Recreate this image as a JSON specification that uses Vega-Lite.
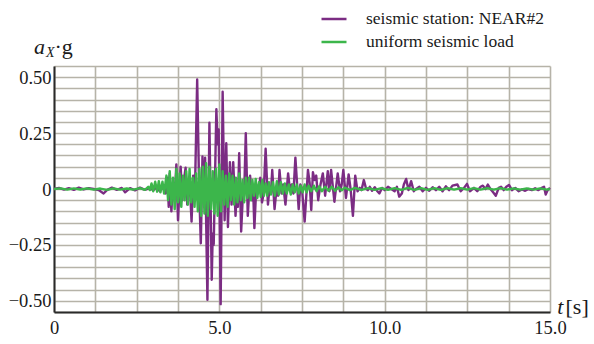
{
  "$schema": "https://vega.github.io/schema/vega-lite/v6.json",
  "width": 496,
  "height": 246,
  "autosize": {"type": "none"},
  "padding": {"left": 54, "top": 66, "right": 44, "bottom": 32},
  "background": "white",
  "config": {
    "view": {"stroke": null},
    "font": "Liberation Serif, Times New Roman, serif",
    "style": {
      "guide-label": {"font": "Liberation Serif, Times New Roman, serif", "fill": "#1a1a1a"},
      "guide-title": {"font": "Liberation Serif, Times New Roman, serif", "fill": "#1a1a1a"}
    },
    "axis": {
      "grid": true,
      "gridColor": "#b6b3a8",
      "gridWidth": 1.6,
      "domainColor": "#2a2a2a",
      "domainWidth": 2,
      "ticks": false,
      "tickSize": 0,
      "labelFont": "Liberation Serif, Times New Roman, serif",
      "labelFontSize": 18.5,
      "labelColor": "#1a1a1a",
      "labelOverlap": false,
      "labelFlush": false,
      "labelBound": false,
      "title": null
    }
  },
  "datasets": {
    "station": [
      {"t":0,"a":0},{"t":0.15,"a":0.005},{"t":0.3,"a":-0.003},{"t":0.45,"a":0.004},{"t":0.6,"a":-0.004},{"t":0.75,"a":0.006},{"t":0.9,"a":-0.002},{"t":1.05,"a":0.004},{"t":1.2,"a":0},{"t":1.35,"a":-0.005},{"t":1.5,"a":-0.02},{"t":1.6,"a":-0.005},{"t":1.75,"a":0.006},{"t":1.9,"a":-0.004},{"t":2.05,"a":0.005},{"t":2.15,"a":-0.015},{"t":2.3,"a":0.004},{"t":2.45,"a":-0.006},{"t":2.6,"a":0.006},{"t":2.75,"a":-0.004},{"t":2.9,"a":0.005},{"t":3.0,"a":-0.006},{"t":3.1,"a":0.008},{"t":3.2,"a":-0.01},{"t":3.3,"a":0.01},{"t":3.38,"a":-0.02},{"t":3.43,"a":0.05},{"t":3.47,"a":-0.08},{"t":3.5,"a":0.07},{"t":3.55,"a":-0.1},{"t":3.6,"a":0.03},{"t":3.65,"a":-0.04},{"t":3.7,"a":0.11},{"t":3.75,"a":-0.14},{"t":3.8,"a":0.02},{"t":3.83,"a":0.1},{"t":3.88,"a":-0.05},{"t":3.93,"a":0.04},{"t":3.98,"a":0.095},{"t":4.03,"a":-0.07},{"t":4.08,"a":0.03},{"t":4.12,"a":-0.02},{"t":4.16,"a":-0.146},{"t":4.21,"a":0.06},{"t":4.26,"a":-0.03},{"t":4.33,"a":0.49},{"t":4.39,"a":0.0},{"t":4.44,"a":-0.243},{"t":4.49,"a":0.145},{"t":4.53,"a":-0.05},{"t":4.57,"a":0.14},{"t":4.64,"a":-0.495},{"t":4.7,"a":0.296},{"t":4.77,"a":-0.406},{"t":4.8,"a":-0.2},{"t":4.83,"a":-0.25},{"t":4.91,"a":0.357},{"t":4.95,"a":0.2},{"t":4.98,"a":0.266},{"t":5.04,"a":-0.515},{"t":5.1,"a":0.435},{"t":5.16,"a":-0.14},{"t":5.21,"a":0.205},{"t":5.26,"a":-0.17},{"t":5.32,"a":0.12},{"t":5.37,"a":-0.07},{"t":5.42,"a":0.12},{"t":5.49,"a":-0.12},{"t":5.53,"a":0.0},{"t":5.56,"a":-0.08},{"t":5.6,"a":0.16},{"t":5.66,"a":-0.19},{"t":5.72,"a":0.0},{"t":5.75,"a":-0.03},{"t":5.8,"a":0.25},{"t":5.86,"a":-0.12},{"t":5.93,"a":0.06},{"t":5.98,"a":-0.05},{"t":6.02,"a":0.01},{"t":6.06,"a":-0.175},{"t":6.12,"a":0.02},{"t":6.16,"a":-0.02},{"t":6.24,"a":0.05},{"t":6.29,"a":-0.06},{"t":6.34,"a":-0.02},{"t":6.4,"a":0.18},{"t":6.47,"a":-0.07},{"t":6.52,"a":0.01},{"t":6.56,"a":-0.02},{"t":6.6,"a":0.085},{"t":6.67,"a":-0.09},{"t":6.73,"a":0.0},{"t":6.78,"a":-0.03},{"t":6.82,"a":0.085},{"t":6.88,"a":-0.02},{"t":6.93,"a":0.02},{"t":7.0,"a":-0.07},{"t":7.08,"a":0.07},{"t":7.14,"a":-0.01},{"t":7.19,"a":0.02},{"t":7.24,"a":-0.02},{"t":7.3,"a":0.14},{"t":7.4,"a":-0.09},{"t":7.45,"a":0.02},{"t":7.5,"a":0.0},{"t":7.58,"a":-0.146},{"t":7.68,"a":0.085},{"t":7.73,"a":0.03},{"t":7.78,"a":-0.094},{"t":7.83,"a":0.075},{"t":7.88,"a":0.04},{"t":7.93,"a":0.06},{"t":7.99,"a":-0.05},{"t":8.06,"a":0.02},{"t":8.13,"a":0.07},{"t":8.2,"a":-0.03},{"t":8.28,"a":0.08},{"t":8.33,"a":-0.01},{"t":8.38,"a":0.085},{"t":8.48,"a":-0.057},{"t":8.58,"a":0.07},{"t":8.65,"a":-0.01},{"t":8.7,"a":0.02},{"t":8.75,"a":0.085},{"t":8.83,"a":-0.04},{"t":8.91,"a":0.065},{"t":8.97,"a":0.0},{"t":9.04,"a":-0.12},{"t":9.11,"a":0.06},{"t":9.18,"a":-0.01},{"t":9.25,"a":0.005},{"t":9.3,"a":-0.005},{"t":9.37,"a":0.04},{"t":9.44,"a":0.0},{"t":9.49,"a":-0.005},{"t":9.55,"a":0.01},{"t":9.62,"a":-0.008},{"t":9.7,"a":0.008},{"t":9.78,"a":-0.01},{"t":9.84,"a":-0.02},{"t":9.92,"a":0.005},{"t":10.0,"a":-0.005},{"t":10.1,"a":0.01},{"t":10.2,"a":0.0},{"t":10.3,"a":-0.01},{"t":10.37,"a":0.01},{"t":10.44,"a":-0.034},{"t":10.52,"a":-0.02},{"t":10.58,"a":0.02},{"t":10.65,"a":0.045},{"t":10.72,"a":-0.005},{"t":10.8,"a":0.035},{"t":10.88,"a":-0.01},{"t":10.95,"a":0.0},{"t":11.05,"a":0.01},{"t":11.15,"a":-0.01},{"t":11.25,"a":0.005},{"t":11.35,"a":-0.008},{"t":11.45,"a":0.008},{"t":11.55,"a":-0.005},{"t":11.65,"a":0.01},{"t":11.75,"a":-0.01},{"t":11.85,"a":0.012},{"t":11.95,"a":-0.005},{"t":12.05,"a":0.015},{"t":12.2,"a":0.02},{"t":12.3,"a":-0.01},{"t":12.4,"a":0.005},{"t":12.49,"a":0.023},{"t":12.58,"a":-0.01},{"t":12.7,"a":0.005},{"t":12.8,"a":-0.01},{"t":12.9,"a":0.01},{"t":12.97,"a":0.015},{"t":13.05,"a":0.0},{"t":13.12,"a":0.02},{"t":13.2,"a":0.0},{"t":13.28,"a":-0.015},{"t":13.36,"a":-0.03},{"t":13.45,"a":0.005},{"t":13.52,"a":0.01},{"t":13.6,"a":-0.005},{"t":13.68,"a":0.01},{"t":13.76,"a":0.018},{"t":13.85,"a":-0.005},{"t":13.95,"a":0.005},{"t":14.05,"a":-0.01},{"t":14.15,"a":-0.002},{"t":14.25,"a":-0.008},{"t":14.35,"a":0.0},{"t":14.45,"a":-0.005},{"t":14.55,"a":0.003},{"t":14.65,"a":-0.005},{"t":14.75,"a":0.005},{"t":14.82,"a":0.01},{"t":14.87,"a":-0.025},{"t":14.93,"a":-0.005},{"t":15.0,"a":0.005}
    ],
    "uniform": [
      {"t":0,"a":0},{"t":0.2,"a":0.003},{"t":0.4,"a":-0.003},{"t":0.6,"a":0.003},{"t":0.8,"a":-0.002},{"t":1.0,"a":0.003},{"t":1.2,"a":-0.003},{"t":1.4,"a":0.002},{"t":1.6,"a":-0.004},{"t":1.8,"a":0.003},{"t":2.0,"a":-0.003},{"t":2.2,"a":0.002},{"t":2.4,"a":-0.003},{"t":2.6,"a":0.004},{"t":2.75,"a":-0.004},{"t":2.85,"a":0.01},{"t":2.9,"a":-0.005},{"t":2.95,"a":0.025},{"t":3.0,"a":-0.01},{"t":3.06,"a":0.033},{"t":3.12,"a":-0.012},{"t":3.17,"a":0.035},{"t":3.22,"a":-0.015},{"t":3.28,"a":0.033},{"t":3.33,"a":-0.02},{"t":3.4,"a":0.06},{"t":3.45,"a":-0.05},{"t":3.5,"a":0.08},{"t":3.55,"a":-0.07},{"t":3.6,"a":0.05},{"t":3.65,"a":-0.09},{"t":3.7,"a":0.09},{"t":3.75,"a":-0.06},{"t":3.8,"a":0.07},{"t":3.85,"a":-0.08},{"t":3.9,"a":0.06},{"t":3.95,"a":-0.05},{"t":4.0,"a":0.08},{"t":4.05,"a":-0.07},{"t":4.1,"a":0.09},{"t":4.15,"a":-0.06},{"t":4.2,"a":0.05},{"t":4.25,"a":-0.08},{"t":4.3,"a":0.07},{"t":4.35,"a":-0.1},{"t":4.4,"a":0.09},{"t":4.45,"a":-0.12},{"t":4.5,"a":0.1},{"t":4.55,"a":-0.11},{"t":4.6,"a":0.115},{"t":4.65,"a":-0.12},{"t":4.7,"a":0.1},{"t":4.75,"a":-0.09},{"t":4.8,"a":0.08},{"t":4.85,"a":-0.11},{"t":4.9,"a":0.09},{"t":4.95,"a":-0.12},{"t":5.0,"a":0.11},{"t":5.05,"a":-0.1},{"t":5.1,"a":0.08},{"t":5.15,"a":-0.07},{"t":5.2,"a":0.06},{"t":5.25,"a":-0.08},{"t":5.3,"a":0.07},{"t":5.35,"a":-0.05},{"t":5.4,"a":0.06},{"t":5.45,"a":-0.07},{"t":5.5,"a":0.05},{"t":5.55,"a":-0.06},{"t":5.6,"a":0.07},{"t":5.65,"a":-0.05},{"t":5.7,"a":0.04},{"t":5.75,"a":-0.06},{"t":5.8,"a":0.05},{"t":5.85,"a":-0.04},{"t":5.9,"a":0.05},{"t":5.95,"a":-0.05},{"t":6.0,"a":0.04},{"t":6.05,"a":-0.03},{"t":6.1,"a":0.045},{"t":6.15,"a":-0.04},{"t":6.2,"a":0.03},{"t":6.25,"a":-0.035},{"t":6.3,"a":0.04},{"t":6.35,"a":-0.03},{"t":6.4,"a":0.025},{"t":6.45,"a":-0.03},{"t":6.5,"a":0.03},{"t":6.56,"a":-0.025},{"t":6.62,"a":0.03},{"t":6.68,"a":-0.03},{"t":6.74,"a":0.035},{"t":6.8,"a":-0.025},{"t":6.86,"a":0.03},{"t":6.92,"a":-0.02},{"t":6.98,"a":0.025},{"t":7.04,"a":-0.02},{"t":7.1,"a":0.02},{"t":7.16,"a":-0.025},{"t":7.22,"a":0.02},{"t":7.28,"a":-0.015},{"t":7.34,"a":0.02},{"t":7.4,"a":-0.02},{"t":7.46,"a":0.015},{"t":7.52,"a":-0.015},{"t":7.58,"a":0.02},{"t":7.64,"a":-0.015},{"t":7.7,"a":0.015},{"t":7.78,"a":-0.01},{"t":7.86,"a":0.015},{"t":7.94,"a":-0.01},{"t":8.02,"a":0.012},{"t":8.1,"a":-0.01},{"t":8.2,"a":0.01},{"t":8.3,"a":-0.008},{"t":8.4,"a":0.01},{"t":8.5,"a":-0.008},{"t":8.6,"a":0.008},{"t":8.7,"a":-0.006},{"t":8.8,"a":0.006},{"t":8.95,"a":-0.005},{"t":9.1,"a":0.005},{"t":9.3,"a":-0.004},{"t":9.5,"a":0.004},{"t":9.7,"a":-0.004},{"t":9.9,"a":0.004},{"t":10.1,"a":-0.004},{"t":10.3,"a":0.004},{"t":10.5,"a":-0.004},{"t":10.7,"a":0.005},{"t":10.9,"a":-0.004},{"t":11.1,"a":0.004},{"t":11.3,"a":-0.004},{"t":11.5,"a":0.004},{"t":11.7,"a":-0.004},{"t":11.9,"a":0.004},{"t":12.1,"a":-0.003},{"t":12.3,"a":0.004},{"t":12.5,"a":-0.003},{"t":12.7,"a":0.004},{"t":12.9,"a":-0.003},{"t":13.1,"a":0.004},{"t":13.3,"a":-0.003},{"t":13.5,"a":0.004},{"t":13.7,"a":-0.003},{"t":13.9,"a":0.003},{"t":14.1,"a":-0.003},{"t":14.3,"a":0.003},{"t":14.5,"a":-0.003},{"t":14.7,"a":0.003},{"t":14.9,"a":-0.003},{"t":15.0,"a":0.0}
    ]
  },
  "layer": [
    {
      "data": {"name": "station"},
      "mark": {"type": "line", "strokeWidth": 2.4, "strokeJoin": "round"},
      "encoding": {
        "x": {
          "field": "t", "type": "quantitative",
          "scale": {"domain": [0, 15], "nice": false, "zero": false},
          "axis": {
            "values": [0, 1.25, 2.5, 3.75, 5, 6.25, 7.5, 8.75, 10, 11.25, 12.5, 13.75, 15],
            "tickCount": 40,
            "labelExpr": "datum.value == 0 ? '0' : datum.value == 5 ? '5.0' : datum.value == 10 ? '10.0' : datum.value == 15 ? '15.0' : ''",
            "labelPadding": 6,
            "labelFont": "Liberation Serif, Times New Roman, serif",
            "labelFontSize": 18.5,
            "title": null
          }
        },
        "y": {
          "field": "a", "type": "quantitative",
          "scale": {"domain": [-0.55, 0.55], "nice": false, "zero": false},
          "axis": {
            "values": [-0.55, -0.5, -0.45, -0.4, -0.35, -0.3, -0.25, -0.2, -0.15, -0.1, -0.05, 0, 0.05, 0.1, 0.15, 0.2, 0.25, 0.3, 0.35, 0.4, 0.45, 0.5, 0.55],
            "tickCount": 40,
            "labelExpr": "datum.value == 0.5 ? '0.50' : datum.value == 0.25 ? '0.25' : datum.value == 0 ? '0' : datum.value == -0.25 ? '−0.25' : datum.value == -0.5 ? '−0.50' : ''",
            "labelPadding": 3,
            "labelFont": "Liberation Serif, Times New Roman, serif",
            "labelFontSize": 18.5,
            "title": null
          }
        },
        "color": {
          "datum": "seismic station: NEAR#2",
          "scale": {"domain": ["seismic station: NEAR#2", "uniform seismic load"], "range": ["#7b2c83", "#3cb64b"]},
          "legend": {
            "orient": "none", "legendX": 266, "legendY": -61, "title": null,
            "symbolType": "stroke", "symbolSize": 625, "symbolStrokeWidth": 2.5,
            "labelOffset": 18, "rowPadding": 0, "padding": 0,
            "labelFont": "Liberation Serif, Times New Roman, serif", "labelFontSize": 17.5, "labelColor": "#1a1a1a", "labelLimit": 0
          }
        }
      }
    },
    {
      "data": {"name": "uniform"},
      "mark": {"type": "line", "strokeWidth": 2.4, "strokeJoin": "round"},
      "encoding": {
        "x": {"field": "t", "type": "quantitative"},
        "y": {"field": "a", "type": "quantitative"},
        "color": {"datum": "uniform seismic load"}
      }
    },
    {
      "data": {"values": [{"label": "a"}]},
      "mark": {"type": "text", "font": "Liberation Serif", "fontStyle": "italic", "fontSize": 22, "align": "left", "baseline": "alphabetic", "color": "#1a1a1a"},
      "encoding": {
        "x": {"datum": -0.605, "type": "quantitative"},
        "y": {"datum": 0.604, "type": "quantitative"},
        "text": {"field": "label"}
      }
    },
    {
      "data": {"values": [{"label": "X"}]},
      "mark": {"type": "text", "font": "Liberation Serif", "fontStyle": "italic", "fontSize": 14, "align": "left", "baseline": "alphabetic", "color": "#1a1a1a"},
      "encoding": {
        "x": {"datum": -0.242, "type": "quantitative"},
        "y": {"datum": 0.59, "type": "quantitative"},
        "text": {"field": "label"}
      }
    },
    {
      "data": {"values": [{"label": "·g"}]},
      "mark": {"type": "text", "font": "Liberation Serif", "fontSize": 22, "align": "left", "baseline": "alphabetic", "color": "#1a1a1a"},
      "encoding": {
        "x": {"datum": 0.015, "type": "quantitative"},
        "y": {"datum": 0.604, "type": "quantitative"},
        "text": {"field": "label"}
      }
    },
    {
      "data": {"values": [{"label": "t"}]},
      "mark": {"type": "text", "font": "Liberation Serif", "fontStyle": "italic", "fontSize": 22, "align": "left", "baseline": "alphabetic", "color": "#1a1a1a"},
      "encoding": {
        "x": {"datum": 15.22, "type": "quantitative"},
        "y": {"datum": -0.56, "type": "quantitative"},
        "text": {"field": "label"}
      }
    },
    {
      "data": {"values": [{"label": "[s]"}]},
      "mark": {"type": "text", "font": "Liberation Serif", "fontSize": 22, "align": "left", "baseline": "alphabetic", "color": "#1a1a1a"},
      "encoding": {
        "x": {"datum": 15.47, "type": "quantitative"},
        "y": {"datum": -0.56, "type": "quantitative"},
        "text": {"field": "label"}
      }
    }
  ]
}
